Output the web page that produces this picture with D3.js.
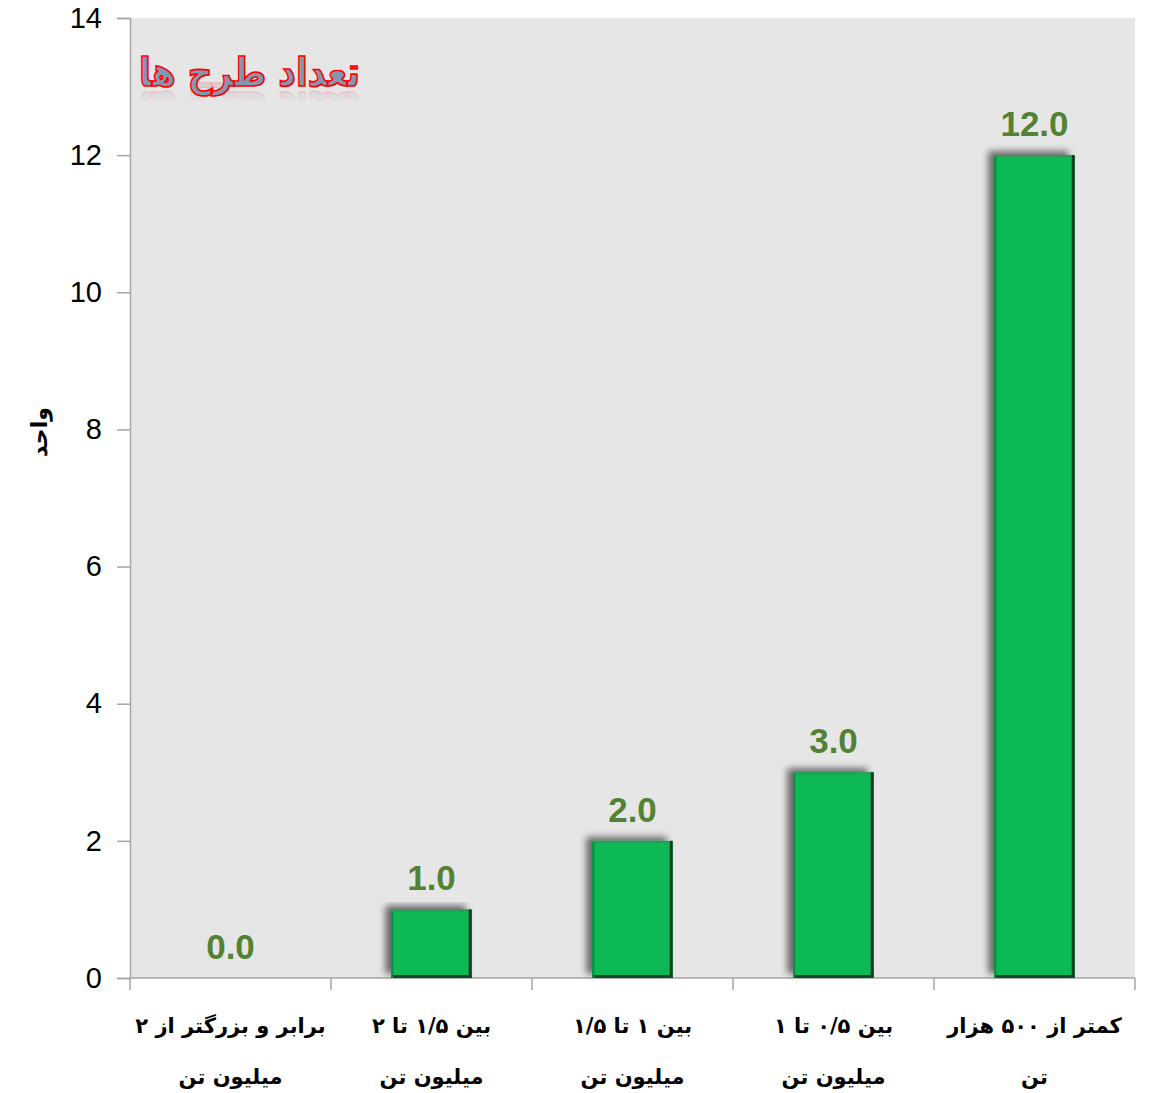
<!DOCTYPE html>
<html>
<head>
<meta charset="utf-8">
<script src="https://cdn.jsdelivr.net/npm/d3@7"></script>
<style>
  html, body { margin: 0; padding: 0; background: #ffffff; }
  svg { display: block; }
</style>
</head>
<body>
<svg id="chart" width="1153" height="1093"></svg>
<script>
// Project size classes and the number of projects in each
const categories = [
  ["برابر و بزرگتر از ۲", "میلیون تن"],
  ["بین ۱/۵ تا ۲", "میلیون تن"],
  ["بین ۱ تا ۱/۵", "میلیون تن"],
  ["بین ۰/۵ تا ۱", "میلیون تن"],
  ["کمتر از ۵۰۰ هزار", "تن"]
];
const projectCounts = [0, 1, 2, 3, 12];
const yTicks = [0, 2, 4, 6, 8, 10, 12, 14];
const yTitle = "واحد";
const chartTitle = "تعداد طرح ها";

const svg = d3.select("#chart");
const margin = { left: 130, right: 18, top: 18, bottom: 115 };
const W = 1153, H = 1093;
const x0 = margin.left, x1 = W - margin.right;
const y0 = H - margin.bottom, y1 = margin.top;

const x = d3.scaleBand().domain(d3.range(categories.length)).range([x0, x1]).paddingInner(0.6).paddingOuter(0.3);
const xEdge = d3.scaleLinear().domain([0, categories.length]).range([x0, x1]);
const y = d3.scaleLinear().domain([0, 14]).range([y0, y1]);

const defs = svg.append("defs");
const sh = defs.append("filter").attr("id", "barShadow")
  .attr("x", "-30%").attr("y", "-10%").attr("width", "160%").attr("height", "120%");
sh.append("feGaussianBlur").attr("in", "SourceAlpha").attr("stdDeviation", 3.5).attr("result", "b");
sh.append("feOffset").attr("in", "b").attr("dx", -6).attr("dy", -4).attr("result", "o");
sh.append("feComponentTransfer").attr("in", "o").attr("result", "s")
  .append("feFuncA").attr("type", "linear").attr("slope", 0.55);
const m = sh.append("feMerge");
m.append("feMergeNode").attr("in", "s");
m.append("feMergeNode").attr("in", "SourceGraphic");

const refl = defs.append("linearGradient").attr("id", "reflFade")
  .attr("x1", 0).attr("y1", 0).attr("x2", 0).attr("y2", 1);
refl.append("stop").attr("offset", "0%").attr("stop-color", "#fff").attr("stop-opacity", 0.0);
refl.append("stop").attr("offset", "55%").attr("stop-color", "#fff").attr("stop-opacity", 0.0);
refl.append("stop").attr("offset", "100%").attr("stop-color", "#fff").attr("stop-opacity", 0.75);
const mask = defs.append("mask").attr("id", "reflMask").attr("maskContentUnits", "objectBoundingBox");
mask.append("rect").attr("width", 1).attr("height", 1).attr("fill", "url(#reflFade)");

// plot background
svg.append("rect").attr("x", x0).attr("y", y1).attr("width", x1 - x0).attr("height", y0 - y1)
  .attr("fill", "#e6e6e6");

// axes
const yAxis = svg.append("g").attr("transform", `translate(${x0},0)`)
  .call(d3.axisLeft(y).tickValues(yTicks).tickSize(13).tickPadding(15).tickFormat(d3.format("d")));
yAxis.select(".domain").attr("stroke", "#a6a6a6").attr("stroke-width", 1.5);
yAxis.selectAll(".tick line").attr("stroke", "#a6a6a6").attr("stroke-width", 1.5);
yAxis.selectAll(".tick text").attr("font-family", "Liberation Sans, Arial, sans-serif")
  .attr("font-size", 29).attr("fill", "#000");

const xAxis = svg.append("g");
xAxis.append("line").attr("x1", x0).attr("x2", x1).attr("y1", y0).attr("y2", y0)
  .attr("stroke", "#a6a6a6").attr("stroke-width", 1.5);
xAxis.selectAll("line.tk").data(d3.range(categories.length + 1)).join("line").attr("class", "tk")
  .attr("x1", d => xEdge(d)).attr("x2", d => xEdge(d)).attr("y1", y0).attr("y2", y0 + 12)
  .attr("stroke", "#a6a6a6").attr("stroke-width", 1.5);

// category labels (two lines, right-to-left)
const catG = svg.append("g");
categories.forEach((lines, i) => {
  const cx = xEdge(i + 0.5);
  lines.forEach((t, j) => {
    catG.append("text").attr("x", cx).attr("y", 1033 + j * 51)
      .attr("text-anchor", "middle").attr("direction", "rtl")
      .attr("font-family", "DejaVu Sans, sans-serif").attr("font-weight", "bold")
      .attr("font-size", 21).attr("fill", "#000").text(t);
  });
});

// bars
const bars = svg.append("g");
projectCounts.forEach((v, i) => {
  if (v <= 0) return;
  const bx = x(i), bw = x.bandwidth(), by = y(v), bh = y(0) - y(v);
  const g = bars.append("g");
  g.append("rect").attr("x", bx).attr("y", by).attr("width", bw).attr("height", bh)
    .attr("fill", "#09b954").attr("filter", "url(#barShadow)");
  // bevelled edges
  g.append("rect").attr("x", bx + bw - 3).attr("y", by).attr("width", 3).attr("height", bh)
    .attr("fill", "#0a3d1c");
  g.append("rect").attr("x", bx).attr("y", by + bh - 3).attr("width", bw).attr("height", 3)
    .attr("fill", "#0f4a24");
  g.append("rect").attr("x", bx).attr("y", by).attr("width", 2).attr("height", bh)
    .attr("fill", "#0b8a3f");
  g.append("rect").attr("x", bx).attr("y", by).attr("width", bw - 3).attr("height", 2)
    .attr("fill", "#2a9a55");
});

// value labels
svg.append("g").selectAll("text").data(projectCounts).join("text")
  .attr("x", (d, i) => x(i) + x.bandwidth() / 2)
  .attr("y", d => y(d) - 19)
  .attr("text-anchor", "middle")
  .attr("font-family", "Liberation Sans, Arial, sans-serif").attr("font-weight", "bold")
  .attr("font-size", 35).attr("fill", "#548235")
  .text(d => d3.format(".1f")(d));

// y axis title
svg.append("text").attr("transform", "translate(47,432) rotate(-90)")
  .attr("text-anchor", "middle").attr("direction", "rtl")
  .attr("font-family", "DejaVu Sans, sans-serif").attr("font-weight", "bold")
  .attr("font-size", 22).attr("fill", "#000").text(yTitle);

// chart title with a faded mirror image underneath
const tx = 360, ty = 86;
const tg = svg.append("g").attr("transform", `translate(${tx},0) scale(0.86,1) translate(${-tx},0)`);
const reflG = tg.append("g");
tg.append("text").attr("id", "chartTitle").attr("x", tx).attr("y", ty)
  .attr("text-anchor", "start").attr("direction", "rtl")
  .attr("font-family", "DejaVu Sans, sans-serif").attr("font-weight", "bold").attr("font-size", 40)
  .attr("fill", "#8497b0").attr("stroke", "#ff0000").attr("stroke-width", 1.7)
  .attr("paint-order", "fill").text(chartTitle);
reflG.append("use").attr("href", "#chartTitle")
  .attr("transform", `translate(0,${2 * ty + 6}) scale(1,-1)`)
  .attr("opacity", 0.35).attr("mask", "url(#reflMask)");
</script>
</body>
</html>
